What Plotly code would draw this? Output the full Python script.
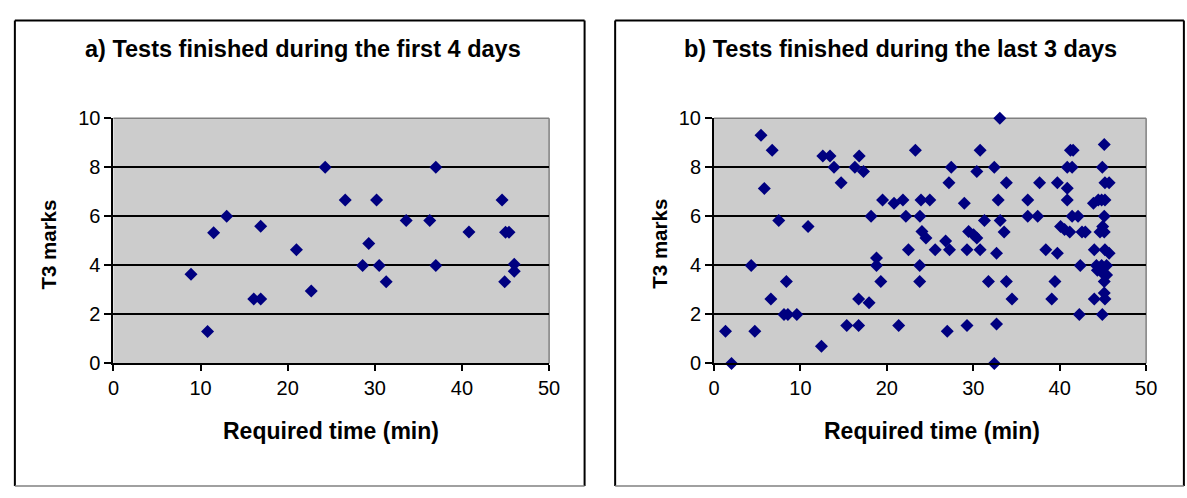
import plotly.graph_objects as go

# Panel a) tests finished during the first 4 days
a_time = [24.3, 26.6, 13.0, 11.5, 16.9, 21.0, 8.9, 16.1, 16.9, 22.7, 10.8, 30.2, 37.0, 33.6,
          36.3, 29.3, 28.6, 30.5, 31.3, 37.0, 40.8, 44.6, 45.0, 45.4, 46.0, 46.0, 44.9]
a_marks = [8.0, 6.67, 6.0, 5.33, 5.6, 4.64, 3.64, 2.63, 2.63, 2.95, 1.3, 6.67, 8.0, 5.83,
           5.83, 4.89, 4.0, 4.0, 3.33, 4.0, 5.36, 6.67, 5.35, 5.35, 4.05, 3.76, 3.33]

# Panel b) tests finished during the last 3 days
b_time = [5.44, 6.73, 5.82, 7.49, 10.88, 4.30, 8.37, 6.58, 8.10, 8.55, 9.58, 1.33, 4.72, 2.02,
          12.43, 12.59, 13.42, 13.88, 14.71, 16.8, 16.3, 17.3, 15.36, 16.73, 16.73, 17.94,
          18.17, 19.5, 18.8, 18.8, 19.3, 21.37, 20.83, 21.86, 22.2, 23.3, 22.5,
          27.45, 27.18, 23.95, 24.97, 23.83, 24.06, 24.52, 25.59, 23.8, 23.8, 26.8, 27.25,
          26.99, 29.27, 28.96, 30.79, 30.41, 32.43, 33.83, 32.88, 31.29, 33.11, 29.46, 30.03,
          30.41, 29.27, 30.79, 32.69, 33.57, 31.75, 33.83, 34.48, 32.69, 32.43, 33.07, 36.3,
          36.3, 37.45, 37.67, 39.73, 38.39, 39.73, 39.45, 39.08, 40.87, 40.87, 40.87, 41.44,
          41.24, 41.55, 40.1, 40.56, 41.16, 41.44, 42.12, 42.58, 42.96, 42.38, 42.27, 43.9,
          44.47, 44.85, 45.23, 45.15, 44.93, 45.23, 45.72, 45.15, 44.97, 45.15, 44.66, 44.0,
          45.23, 45.72, 44.25, 44.85, 45.42, 44.36, 45.0, 45.42, 45.15, 45.15, 44.0, 45.23, 44.93]
b_marks = [9.31, 8.70, 7.14, 5.83, 5.59, 4.0, 3.34, 2.63, 2.0, 2.0, 2.0, 1.31, 1.31, 0.0,
           0.70, 8.46, 8.46, 8.0, 7.37, 8.46, 8.0, 7.83, 1.55, 1.55, 2.63, 2.48,
           6.0, 6.67, 4.30, 4.0, 3.34, 1.55, 6.54, 6.67, 6.0, 8.70, 4.64,
           8.0, 7.37, 6.67, 6.67, 6.0, 5.38, 5.12, 4.64, 4.0, 3.34, 4.99, 4.64,
           1.31, 1.55, 6.54, 8.70, 7.83, 8.0, 7.37, 6.67, 5.83, 5.83, 5.38, 5.25,
           5.12, 4.64, 4.64, 4.50, 5.36, 3.34, 3.34, 2.63, 1.61, 0.0, 10.0, 6.67,
           6.0, 6.0, 7.37, 7.37, 4.64, 4.50, 3.34, 2.63, 7.15, 6.67, 8.0, 8.0,
           8.70, 8.70, 5.59, 5.46, 5.36, 6.0, 6.0, 5.36, 5.36, 4.0, 2.0, 6.54,
           6.67, 6.67, 6.67, 8.93, 8.0, 7.37, 7.37, 6.0, 5.59, 5.36, 5.36, 4.64,
           4.64, 4.50, 4.0, 4.0, 4.0, 3.80, 3.67, 3.61, 3.34, 2.87, 2.63, 2.63, 2.0]

titles = ["a) Tests finished during the first 4 days", "b) Tests finished during the last 3 days"]
x_title = "Required time (min)"
y_title = "T3 marks"
x_ticks = [0, 10, 20, 30, 40, 50]
y_ticks = [0, 2, 4, 6, 8, 10]

W, H = 1187, 498
FONT = "Liberation Sans, Arial, sans-serif"
MARK = "#000080"

def px(x):
    return x / W

def py(y):
    return 1 - y / H

fig = go.Figure()
fig.add_trace(go.Scatter(x=a_time, y=a_marks, mode="markers", xaxis="x", yaxis="y",
                         marker=dict(symbol="diamond", size=10, color=MARK), cliponaxis=False,
                         showlegend=False))
fig.add_trace(go.Scatter(x=b_time, y=b_marks, mode="markers", xaxis="x2", yaxis="y2",
                         marker=dict(symbol="diamond", size=10, color=MARK), cliponaxis=False,
                         showlegend=False))

plot_top, plot_bot = 112.3, 368.7
dom_y = [py(plot_bot), py(plot_top)]
dom_x1 = [px(109), px(551)]
dom_x2 = [px(718.3), px(1156.7)]

xcommon = dict(range=[0, 50], tickvals=x_ticks, ticks="outside", ticklen=6, tickcolor="black",
               tickwidth=1.5, showline=True, linecolor="black", linewidth=2, showgrid=False,
               zeroline=False, tickfont=dict(family=FONT, size=20, color="black"), fixedrange=True)
ycommon = dict(range=[0, 10], tickvals=y_ticks, ticks="outside", ticklen=7, tickcolor="black",
               tickwidth=1.5, showline=True, linecolor="black", linewidth=2, showgrid=True,
               gridcolor="black", gridwidth=2, zeroline=False,
               tickfont=dict(family=FONT, size=20, color="black"), fixedrange=True)

fig.update_layout(
    width=W, height=H, margin=dict(l=0, r=0, t=0, b=0),
    paper_bgcolor="white", plot_bgcolor="#cccccc",
    xaxis=dict(domain=dom_x1, anchor="y", **xcommon),
    yaxis=dict(domain=dom_y, anchor="x", **ycommon),
    xaxis2=dict(domain=dom_x2, anchor="y2", **xcommon),
    yaxis2=dict(domain=dom_y, anchor="x2", **ycommon),
)

shapes = []
# panel boxes
for (x0, x1) in [(9, 587), (618, 1195)]:
    shapes.append(dict(type="line", xref="paper", yref="paper", x0=px(x0), x1=px(x1),
                       y0=py(10), y1=py(10), line=dict(color="black", width=2)))
    shapes.append(dict(type="line", xref="paper", yref="paper", x0=px(x0), x1=px(x0),
                       y0=py(10), y1=py(497), line=dict(color="black", width=2)))
    shapes.append(dict(type="line", xref="paper", yref="paper", x0=px(x1), x1=px(x1),
                       y0=py(10), y1=py(497), line=dict(color="black", width=2)))
    shapes.append(dict(type="line", xref="paper", yref="paper", x0=px(x0), x1=px(x1),
                       y0=py(497), y1=py(497), line=dict(color="#808080", width=1.5)))
# grey plot-area border on top/right
for (l, r) in [(109, 551), (718.3, 1156.7)]:
    shapes.append(dict(type="line", xref="paper", yref="paper", x0=px(l), x1=px(r),
                       y0=py(plot_top), y1=py(plot_top), line=dict(color="#808080", width=1.5),
                       layer="below"))
    shapes.append(dict(type="line", xref="paper", yref="paper", x0=px(r), x1=px(r),
                       y0=py(plot_top), y1=py(plot_bot), line=dict(color="#808080", width=1.5),
                       layer="below"))
fig.update_layout(shapes=shapes)

ann = []
for title, cx in zip(titles, [301, 908]):
    ann.append(dict(text="<b>%s</b>" % title, x=px(cx), y=py(40), xref="paper", yref="paper",
                    showarrow=False, xanchor="center", yanchor="middle",
                    font=dict(family=FONT, size=23.5, color="black")))
for cx in [330, 939]:
    ann.append(dict(text="<b>%s</b>" % x_title, x=px(cx), y=py(439), xref="paper", yref="paper",
                    showarrow=False, xanchor="center", yanchor="middle",
                    font=dict(family=FONT, size=23, color="black")))
for cx in [43, 663]:
    ann.append(dict(text="<b>%s</b>" % y_title, x=px(cx), y=py(244), xref="paper", yref="paper",
                    showarrow=False, xanchor="center", yanchor="middle", textangle=-90,
                    font=dict(family=FONT, size=20.5, color="black")))
fig.update_layout(annotations=ann)

fig.write_html("out.html", config=dict(displayModeBar=False),
               post_script="document.body.style.margin='0';document.body.style.overflow='hidden';")
